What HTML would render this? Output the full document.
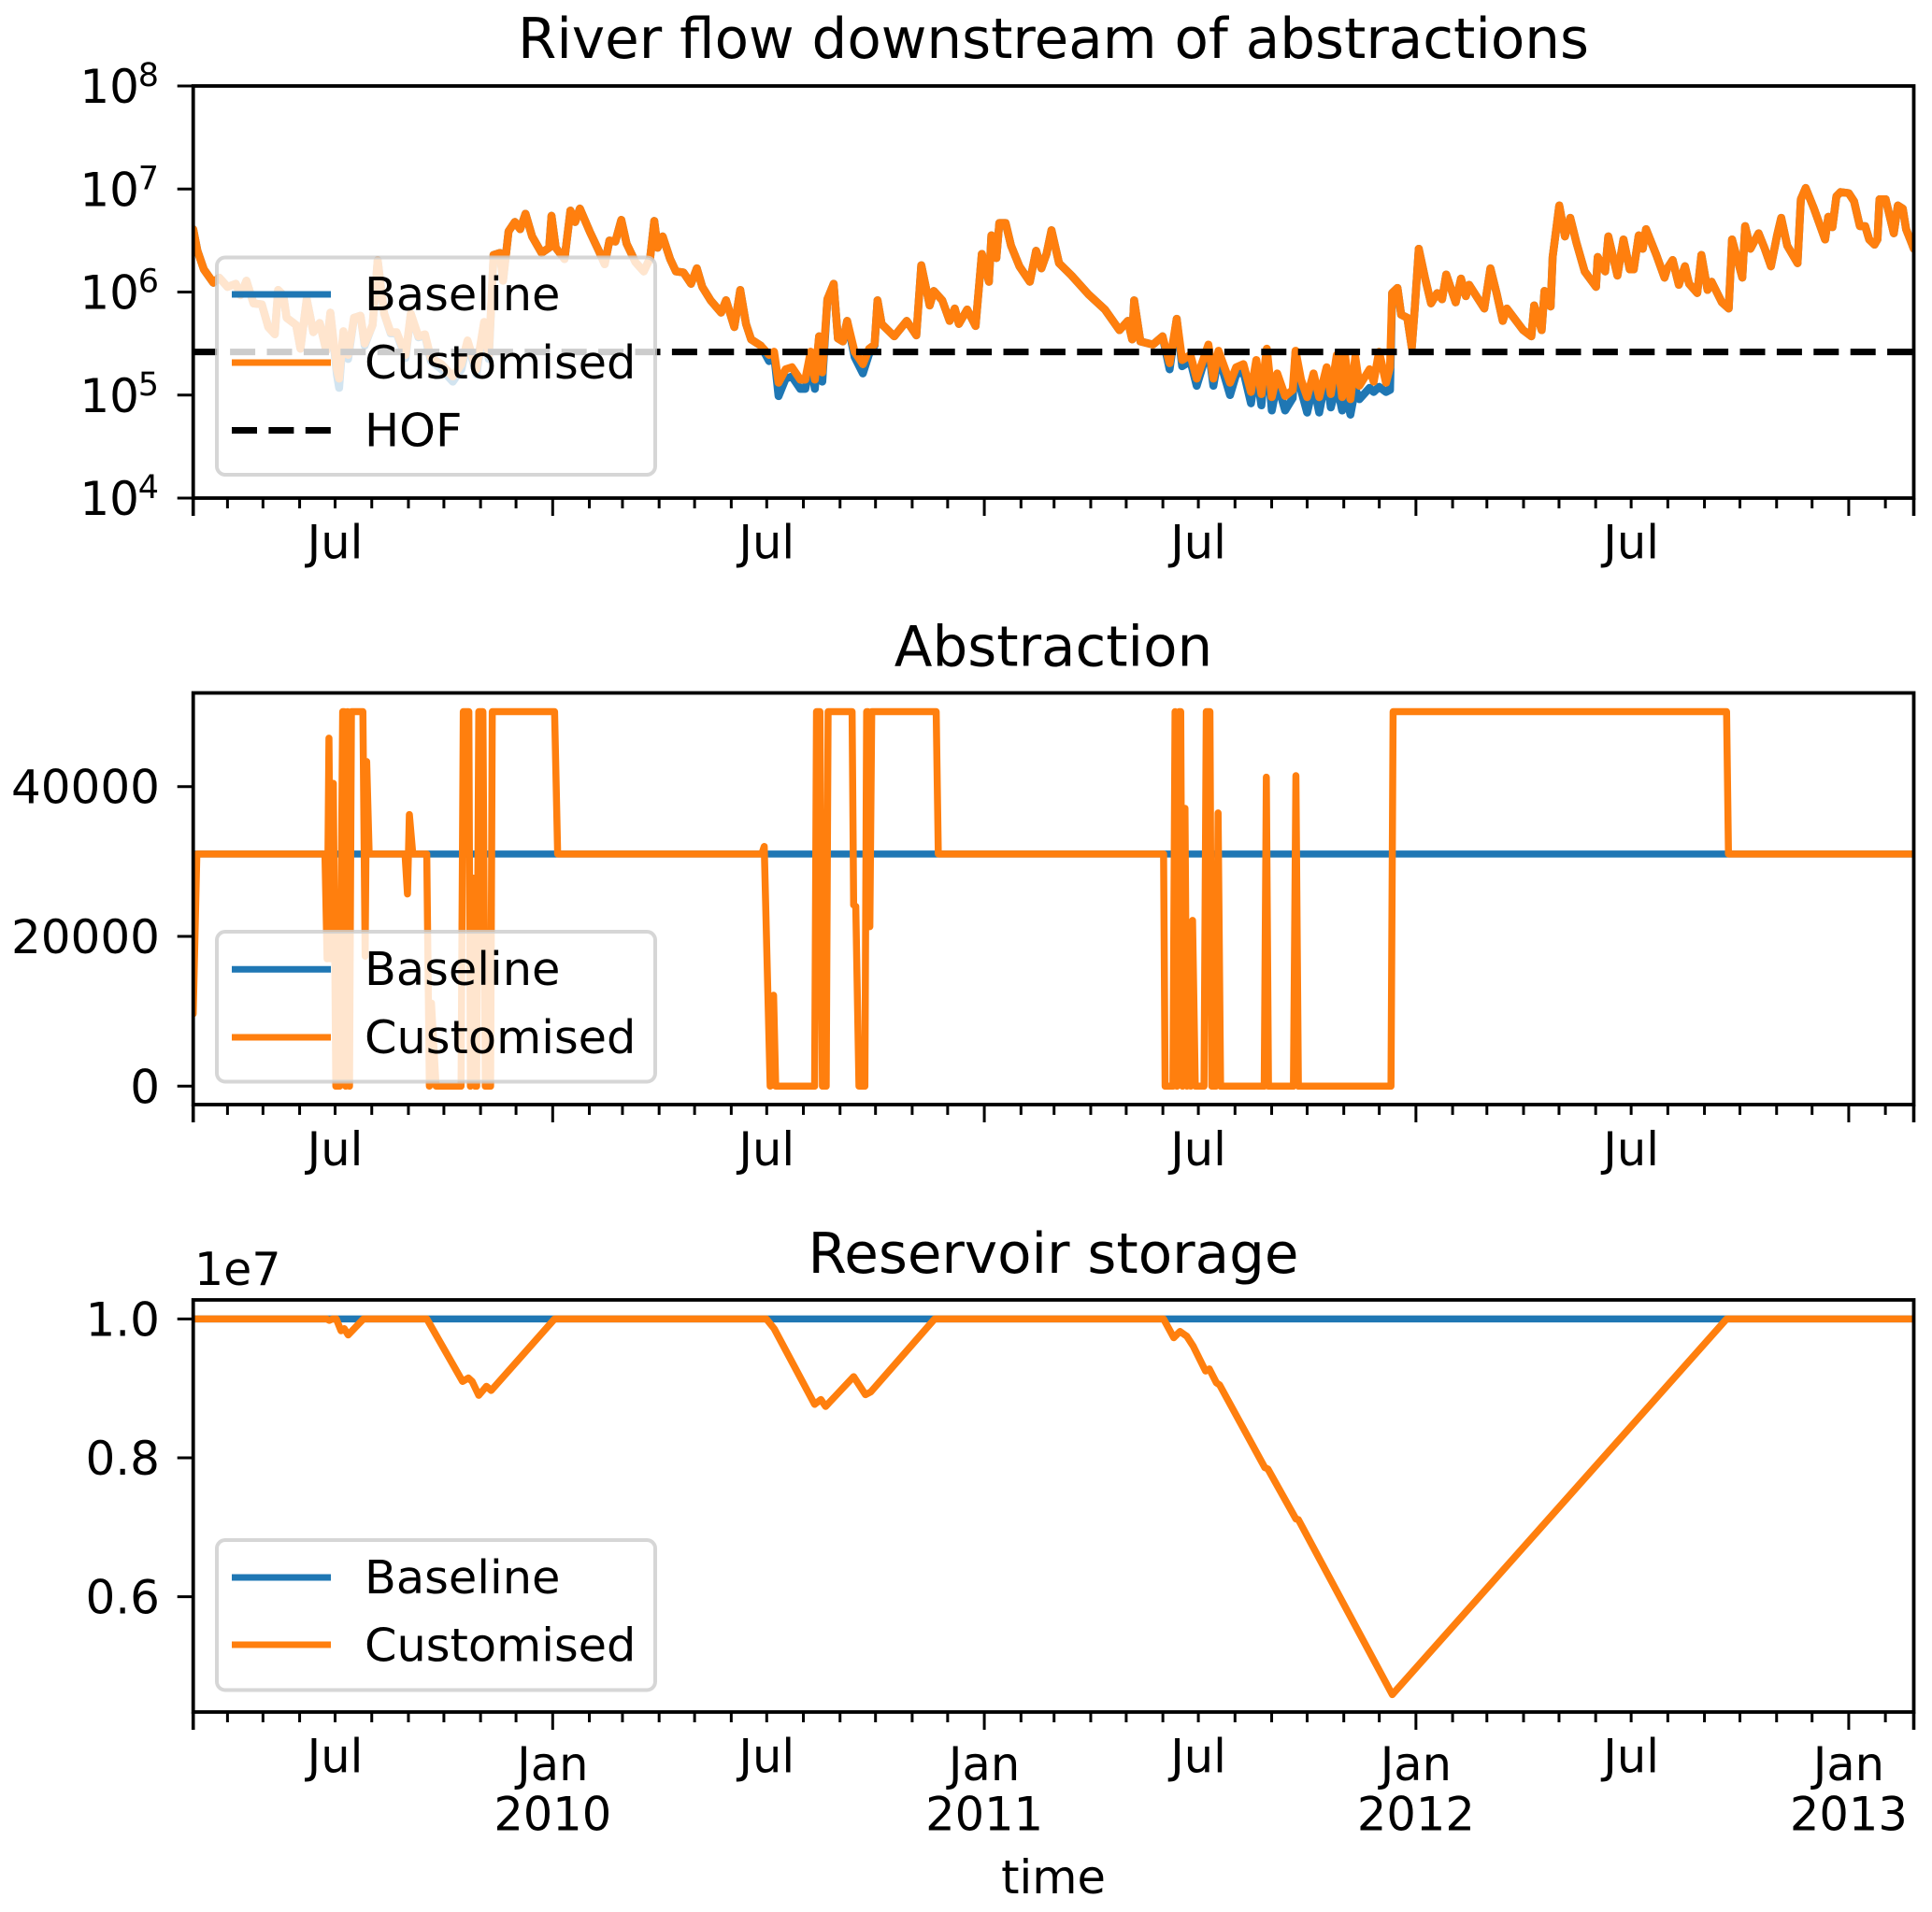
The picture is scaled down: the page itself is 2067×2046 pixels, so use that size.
<!DOCTYPE html>
<html lang="en">
<head>
<meta charset="utf-8">
<title>River flow, abstraction and reservoir storage</title>
<style>
html,body{margin:0;padding:0;background:#fff;}
svg{display:block;}
text{font-family:"DejaVu Sans","Liberation Sans",sans-serif;fill:#000;}
</style>
</head>
<body>
<svg id="figure" xmlns="http://www.w3.org/2000/svg" width="2067" height="2046" viewBox="0 0 2067 2046">
  <rect x="0" y="0" width="2067" height="2046" fill="#fff"/>
  <defs>
    <clipPath id="clip-flow"><rect x="206.7" y="92" width="1840.8" height="441"/></clipPath>
    <clipPath id="clip-abstraction"><rect x="206.7" y="741.5" width="1840.8" height="440.5"/></clipPath>
    <clipPath id="clip-storage"><rect x="206.7" y="1391" width="1840.8" height="441"/></clipPath>
  </defs>

  <text x="1127" y="62" font-size="59.5" text-anchor="middle">River flow downstream of abstractions</text>
  <text x="1127" y="712.5" font-size="59.5" text-anchor="middle">Abstraction</text>
  <text x="1127" y="1362" font-size="59.5" text-anchor="middle">Reservoir storage</text>
  <text x="208" y="1375" font-size="49">1e7</text>
  <text x="1127" y="2026" font-size="49.5" text-anchor="middle">time</text>

  <g id="flow-axes"></g>
  <g id="abstraction-axes"></g>
  <g id="storage-axes"></g>

  <g>
    <rect x="232" y="275.5" width="469" height="232.5" rx="9" fill="#fff" fill-opacity="0.8" stroke="#ccc" stroke-opacity="0.8" stroke-width="4"/>
    <line x1="248" x2="354" y1="315" y2="315" stroke="#1f77b4" stroke-width="7"/>
    <text x="390" y="332" font-size="49.4">Baseline</text>
    <line x1="248" x2="354" y1="388" y2="388" stroke="#ff7f0e" stroke-width="7"/>
    <text x="390" y="405" font-size="49.4">Customised</text>
    <line x1="248" x2="354" y1="460.5" y2="460.5" stroke="#000" stroke-width="7" stroke-dasharray="27 12.4"/>
    <text x="390" y="477.5" font-size="49.4">HOF</text>
  </g>
  <g>
    <rect x="232" y="997" width="469" height="160.5" rx="9" fill="#fff" fill-opacity="0.8" stroke="#ccc" stroke-opacity="0.8" stroke-width="4"/>
    <line x1="248" x2="354" y1="1037.3" y2="1037.3" stroke="#1f77b4" stroke-width="7"/>
    <text x="390" y="1054" font-size="49.4">Baseline</text>
    <line x1="248" x2="354" y1="1110" y2="1110" stroke="#ff7f0e" stroke-width="7"/>
    <text x="390" y="1127" font-size="49.4">Customised</text>
  </g>
  <g>
    <rect x="232" y="1648" width="469" height="160.5" rx="9" fill="#fff" fill-opacity="0.8" stroke="#ccc" stroke-opacity="0.8" stroke-width="4"/>
    <line x1="248" x2="354" y1="1688" y2="1688" stroke="#1f77b4" stroke-width="7"/>
    <text x="390" y="1705" font-size="49.4">Baseline</text>
    <line x1="248" x2="354" y1="1760" y2="1760" stroke="#ff7f0e" stroke-width="7"/>
    <text x="390" y="1777.5" font-size="49.4">Customised</text>
  </g>
</svg>

<script>
// Time axis: values are days since the first record (early March 2009).
const startDateUTC = Date.UTC(2009, 2, 3);
const endDay = 1455;
const tickYears = [2009, 2010, 2011, 2012, 2013];
const monthNames = ['Jan', 'Jul'];

// River flow, log10 of the flow value
const flowDays = [
0,3.6,9,17,22,29,36,40,45,51,
58,63.5,69,71.8,76.2,79,87,90.7,96,101.6,
107,112.5,116,121.5,123.4,127,131,136,141.5,145,
151.7,156,161.5,167,172,179.6,184,190.5,196,201,
210,219.5,226.8,232,239.5,246,250,254,259.4,262,
266.7,272,276.5,281,286.6,294.6,301,303,306.6,314,
319,323,327,335.6,343,348,352,357,362,366.5,
374,381,386.4,389.9,392.7,397,403.3,408.2,414.6,421,
425.9,430.5,437.5,446.4,450.6,457.6,462.6,467.5,471.8,479.9,
487,491.2,495,501,506.3,513.4,517.6,522.2,525.7,529.3,
532,536.3,541.6,545.2,549.4,553,559.3,566.3,571.6,576.2,
578.7,582.2,592.8,603.4,611.5,615.7,622.8,626.3,633.4,639.7,
644,647.5,654.5,661.6,666.9,672.9,675,679.2,681.7,687,
691.6,698.7,707.5,712.8,717.3,721.6,725.8,732.2,742.8,756.9,
771,783.3,790.4,794,795.7,801,811.6,819.7,825.7,831.7,
836.3,843.3,848.6,858.5,862.7,867,876.8,882,888.1,894.5,
899,903.3,907.9,912.1,916.7,923.4,929.8,932.2,936.8,942,
947.4,952.2,958.5,962,967.1,971.6,974,978.6,982.7,986.2,
994.8,998.3,1002.8,1008.7,1012.1,1013.9,1018.4,1021.5,1026.7,1030.5,
1033,1036.4,1041.6,1046.8,1052,1056.1,1059.6,1067.6,1072.1,1076.2,
1079,1091.8,1097,1102.2,1107.4,1110.9,1124.7,1131.6,1134,1140.3,
1142.7,1147.9,1149.6,1155.2,1160,1164.5,1169.7,1176.7,1186.3,1187.7,
1194,1196.7,1204.4,1209.5,1214.8,1218.2,1222.4,1225.8,1228.6,1237.3,
1244.2,1246.6,1251.1,1256.3,1261.5,1265,1271.9,1275.4,1280.6,1284,
1292.7,1298.5,1301.3,1310,1312.4,1316.9,1323.8,1329,1334.2,1339.4,
1342.9,1348,1356.7,1359.5,1363.6,1370.6,1380,1382.7,1386.2,1389.6,
1393.1,1400,1404.5,1409.4,1413.9,1417.3,1421.8,1424.3,1426,1431.2,
1438.1,1441.5,1445.7,1448.5,1453,1455
];
const flowCustomisedLog10 = [
6.61,6.40,6.22,6.09,6.14,6.05,6.08,5.97,6.11,5.89,
5.88,5.66,5.59,6.02,5.97,5.75,5.68,5.45,5.93,5.61,
5.70,5.43,5.80,5.25,5.16,5.62,5.39,5.75,5.77,5.50,
5.68,6.31,5.79,5.61,5.61,5.39,5.79,5.57,5.59,5.36,
5.30,5.18,5.30,5.53,5.25,5.71,5.39,6.36,6.38,6.11,
6.59,6.68,6.61,6.76,6.54,6.38,6.43,6.74,6.43,6.32,
6.79,6.68,6.81,6.58,6.40,6.27,6.50,6.49,6.70,6.47,
6.29,6.20,6.33,6.69,6.43,6.54,6.32,6.20,6.19,6.08,
6.23,6.05,5.92,5.80,5.92,5.66,6.02,5.69,5.54,5.48,
5.39,5.42,5.12,5.25,5.27,5.15,5.15,5.42,5.15,5.57,
5.22,5.93,6.08,5.55,5.52,5.72,5.42,5.30,5.45,5.49,
5.92,5.69,5.57,5.72,5.58,6.26,5.87,6.01,5.92,5.72,
5.84,5.69,5.83,5.67,6.37,6.10,6.55,6.33,6.67,6.67,
6.45,6.25,6.10,6.40,6.23,6.37,6.60,6.28,6.16,5.98,
5.83,5.63,5.72,5.54,5.92,5.52,5.49,5.57,5.31,5.74,
5.34,5.39,5.16,5.49,5.16,5.43,5.12,5.27,5.30,5.03,
5.34,5.01,5.45,4.98,5.21,4.99,5.05,5.43,5.15,4.98,
5.21,4.98,5.27,5.01,5.39,4.98,5.39,4.96,5.37,5.09,
5.25,5.13,5.42,5.12,5.27,5.99,6.04,5.78,5.75,5.46,
5.84,6.42,6.14,5.89,5.99,5.93,6.17,5.90,6.13,5.96,
6.07,5.84,6.23,5.99,5.72,5.84,5.63,5.57,5.87,5.63,
6.01,5.86,6.34,6.84,6.54,6.72,6.48,6.20,6.05,6.34,
6.20,6.54,6.16,6.51,6.22,6.22,6.55,6.42,6.61,6.36,
6.14,6.23,6.31,6.07,6.25,6.08,5.99,6.36,6.02,6.10,
5.90,5.84,6.51,6.14,6.64,6.42,6.57,6.42,6.25,6.55,
6.72,6.45,6.28,6.90,7.01,6.81,6.51,6.73,6.63,6.93,
6.97,6.96,6.88,6.64,6.64,6.51,6.46,6.51,6.90,6.90,
6.57,6.84,6.81,6.61,6.48,6.42
];
const flowBaselineLog10 = [
6.61,6.40,6.22,6.09,6.14,6.05,6.08,5.97,6.11,5.89,
5.88,5.66,5.59,6.02,5.97,5.75,5.68,5.45,5.93,5.61,
5.70,5.43,5.80,5.20,5.07,5.60,5.35,5.75,5.77,5.48,
5.68,6.31,5.79,5.60,5.60,5.36,5.79,5.56,5.58,5.33,
5.25,5.13,5.25,5.52,5.20,5.70,5.35,6.36,6.38,6.11,
6.59,6.68,6.61,6.76,6.54,6.38,6.43,6.74,6.43,6.32,
6.79,6.68,6.81,6.58,6.40,6.27,6.50,6.49,6.70,6.47,
6.29,6.20,6.33,6.69,6.43,6.54,6.32,6.20,6.19,6.08,
6.23,6.05,5.92,5.80,5.92,5.66,6.02,5.69,5.54,5.48,
5.33,5.40,4.99,5.16,5.18,5.06,5.06,5.33,5.06,5.57,
5.13,5.93,6.08,5.55,5.52,5.72,5.37,5.21,5.40,5.48,
5.92,5.69,5.57,5.72,5.58,6.26,5.87,6.01,5.92,5.72,
5.84,5.69,5.83,5.67,6.37,6.10,6.55,6.33,6.67,6.67,
6.45,6.25,6.10,6.40,6.23,6.37,6.60,6.28,6.16,5.98,
5.83,5.63,5.72,5.54,5.92,5.52,5.49,5.57,5.25,5.74,
5.28,5.33,5.09,5.46,5.09,5.38,5.00,5.20,5.23,4.92,
5.25,4.90,5.43,4.85,5.12,4.85,4.97,5.42,5.05,4.83,
5.10,4.83,5.20,4.88,5.10,4.85,5.05,4.81,5.06,4.96,
5.07,5.03,5.08,5.03,5.05,5.99,6.04,5.78,5.75,5.46,
5.84,6.42,6.14,5.89,5.99,5.93,6.17,5.90,6.13,5.96,
6.07,5.84,6.23,5.99,5.72,5.84,5.63,5.57,5.87,5.63,
6.01,5.86,6.34,6.84,6.54,6.72,6.48,6.20,6.05,6.34,
6.20,6.54,6.16,6.51,6.22,6.22,6.55,6.42,6.61,6.36,
6.14,6.23,6.31,6.07,6.25,6.08,5.99,6.36,6.02,6.10,
5.90,5.84,6.51,6.14,6.64,6.42,6.57,6.42,6.25,6.55,
6.72,6.45,6.28,6.90,7.01,6.81,6.51,6.73,6.63,6.93,
6.97,6.96,6.88,6.64,6.64,6.51,6.46,6.51,6.90,6.90,
6.57,6.84,6.81,6.61,6.48,6.42
];
const hofDays = [0, 1455];
const hofFlowLog10 = [5.418, 5.418];
const flowTickExponents = [4, 5, 6, 7, 8];

// Abstraction
const abstractionDays = [
0,3.1,111.4,113.2,114.8,116.4,118.5,120.6,123.8,126.4,
127.7,129,130.6,132.2,133.8,143.5,145.4,146.7,148.8,179.1,
181.2,182.8,185.7,197.5,199.7,201.5,205.4,226.5,228.4,233.1,
234.4,236.5,238.4,239.7,241.5,245,247,251.5,252.9,305.6,
308.2,480.8,482.9,487.9,490.8,492.6,525.5,527.1,530,532.1,
535.3,536.9,557.2,558.5,560.3,563,568,569.5,570.6,572.2,
573.8,628.3,630.1,820.6,821.9,828.5,830.3,831.9,833.7,835.1,
836.6,838.7,840.3,842.4,843.5,845.1,847.4,854.8,856.7,859.8,
861.4,864.8,866.7,868.8,905.7,907.5,909.3,930.4,932.5,934.6,
1012.9,1014.7,1296.7,1298.3,1455
];
const abstractionCustomised = [
9650,31000,31000,17000,46460,17000,40430,0,0,50000,
50000,0,50000,0,50000,50000,17350,43340,31000,31000,
25660,36270,31000,31000,0,11100,0,0,50000,50000,
0,27800,0,0,50000,50000,0,0,50000,50000,
31000,31000,32000,0,12140,0,0,50000,50000,0,
0,50000,50000,24200,24000,0,0,50000,50000,21300,
50000,50000,31000,31000,0,0,50000,0,50000,50000,
0,37100,0,20000,0,22130,0,0,50000,50000,
0,0,36480,0,0,41260,0,0,41460,0,
0,50000,50000,31000,31000
];
const abstractionBaselineDays = [0, 1455];
const abstractionBaseline = [31000, 31000];
const abstractionTicks = [0, 20000, 40000];

// Reservoir storage, in units of 1e7
const storageDays = [
0,112.9,115,117.7,121,125,127.8,131,144,197.6,
227.8,232.7,235.9,241.5,248,252,305.6,484.7,491.3,525.5,
530.8,534.8,558.5,568.5,573,627,820.6,829.2,834.5,840.3,
845.6,856.1,859.3,865.3,868,906.2,908.8,932.5,934.6,1014,
1296.7,1455
];
const storageCustomised = [
1,1,0.998,1,1,0.983,0.986,0.977,1,1,
0.91,0.915,0.91,0.89,0.903,0.897,1,1,0.986,0.877,
0.884,0.874,0.917,0.891,0.895,1,1,0.973,0.982,0.975,
0.961,0.925,0.928,0.908,0.905,0.786,0.784,0.712,0.711,0.459,
1,1
];
const storageBaselineDays = [0, 1455];
const storageBaseline = [1, 1];
const storageTicks = [0.6, 0.8, 1.0];
const storageTickLabels = ['0.6', '0.8', '1.0'];

// Axis functions
const SVG_NS = 'http://www.w3.org/2000/svg';
const axisLeft = 206.7;
const axisRight = 2047.5;
const tickFont = 49.5;
function xScale(day) { return axisLeft + day * (axisRight - axisLeft) / endDay; }
function yFlow(log10Value) { return 92 + (8 - log10Value) * 110.25; }
function yAbstraction(value) { return 1162.3 - value * 0.008015; }
function yStorage(value) { return 1411.4 + (1 - value) * 743; }
function dayOfDate(year, month) { return (Date.UTC(year, month, 1) - startDateUTC) / 86400000; }

function makeLine(parent, x1, y1, x2, y2, width) {
  const el = document.createElementNS(SVG_NS, 'line');
  el.setAttribute('x1', x1);
  el.setAttribute('y1', y1);
  el.setAttribute('x2', x2);
  el.setAttribute('y2', y2);
  el.setAttribute('stroke', '#000');
  el.setAttribute('stroke-width', width);
  parent.appendChild(el);
  return el;
}
function makeText(parent, x, y, size, anchor, content) {
  const el = document.createElementNS(SVG_NS, 'text');
  el.setAttribute('x', x);
  el.setAttribute('y', y);
  el.setAttribute('font-size', size);
  el.setAttribute('text-anchor', anchor);
  el.textContent = content;
  parent.appendChild(el);
  return el;
}
function makeSeries(parent, days, values, yFn, color, width, clipId) {
  const el = document.createElementNS(SVG_NS, 'polyline');
  el.setAttribute('points', days.map(function (d, i) { return xScale(d).toFixed(2) + ',' + yFn(values[i]).toFixed(2); }).join(' '));
  el.setAttribute('fill', 'none');
  el.setAttribute('stroke', color);
  el.setAttribute('stroke-width', width);
  el.setAttribute('stroke-linejoin', 'round');
  el.setAttribute('stroke-linecap', 'round');
  el.setAttribute('clip-path', 'url(#' + clipId + ')');
  parent.appendChild(el);
  return el;
}

function drawFrame(parent, top, bottom, showJan, julBaseline, prefix) {
  const tickGroup = document.createElementNS(SVG_NS, 'g');
  
  
  parent.appendChild(tickGroup);

  const edgeLeft = makeLine(tickGroup, xScale(0), bottom, xScale(0), bottom + 19, 3.6);
  
  
  const edgeRight = makeLine(tickGroup, xScale(endDay), bottom, xScale(endDay), bottom + 19, 3.6);
  
  

  tickYears.forEach(function (year) {
    for (let month = 0; month < 12; month++) {
      const day = dayOfDate(year, month);
      if (day <= 0 || day >= endDay) continue;
      const isJan = month === 0;
      const tick = makeLine(tickGroup, xScale(day), bottom, xScale(day), bottom + (isJan ? 19 : 11), 3);
      
      
      if (month === 6) {
        const jul = makeText(tickGroup, xScale(day), julBaseline, tickFont, 'middle', monthNames[1]);
        
        
      }
      if (isJan && showJan) {
        const jan = makeText(tickGroup, xScale(day), 1905, tickFont, 'middle', monthNames[0]);
        
        
        const yr = makeText(tickGroup, xScale(day), 1958.5, tickFont, 'middle', String(year));
        
        
      }
    }
  });

  const frame = document.createElementNS(SVG_NS, 'rect');
  frame.setAttribute('x', axisLeft);
  frame.setAttribute('y', top);
  frame.setAttribute('width', axisRight - axisLeft);
  frame.setAttribute('height', bottom - top);
  frame.setAttribute('fill', 'none');
  frame.setAttribute('stroke', '#000');
  frame.setAttribute('stroke-width', 3.8);
  
  
  parent.appendChild(frame);
}

// Panel 1: river flow
const flowAxes = document.getElementById('flow-axes');
const flowBaselineLine = makeSeries(flowAxes, flowDays, flowBaselineLog10, yFlow, '#1f77b4', 8.5, 'clip-flow');


const flowCustomisedLine = makeSeries(flowAxes, flowDays, flowCustomisedLog10, yFlow, '#ff7f0e', 8.5, 'clip-flow');


const hofLine = makeSeries(flowAxes, hofDays, hofFlowLog10, yFlow, '#000', 7, 'clip-flow');
hofLine.setAttribute('stroke-dasharray', '27 12.4');
hofLine.setAttribute('stroke-linecap', 'butt');


drawFrame(flowAxes, 92, 533, false, 597.5, 'flow');
flowTickExponents.forEach(function (exponent) {
  const y = yFlow(exponent);
  const tick = makeLine(flowAxes, axisLeft, y, axisLeft - 17, y, 3);
  
  
  const base = makeText(flowAxes, 149, y + 18, 50, 'end', '10');
  
  
  const sup = makeText(flowAxes, 170, y, 35, 'end', String(exponent));
  
  
});

// Panel 2: abstraction
const abstractionAxes = document.getElementById('abstraction-axes');
const abstractionBaselineLine = makeSeries(abstractionAxes, abstractionBaselineDays, abstractionBaseline, yAbstraction, '#1f77b4', 7.5, 'clip-abstraction');


const abstractionCustomisedLine = makeSeries(abstractionAxes, abstractionDays, abstractionCustomised, yAbstraction, '#ff7f0e', 7.5, 'clip-abstraction');


drawFrame(abstractionAxes, 741.5, 1182, false, 1247, 'abstraction');
abstractionTicks.forEach(function (value) {
  const y = yAbstraction(value);
  const tick = makeLine(abstractionAxes, axisLeft, y, axisLeft - 17, y, 3);
  
  
  const label = makeText(abstractionAxes, 171, y + 18, 50, 'end', String(value));
  
  
});

// Panel 3: reservoir storage
const storageAxes = document.getElementById('storage-axes');
const storageBaselineLine = makeSeries(storageAxes, storageBaselineDays, storageBaseline, yStorage, '#1f77b4', 7.5, 'clip-storage');


const storageCustomisedLine = makeSeries(storageAxes, storageDays, storageCustomised, yStorage, '#ff7f0e', 7.5, 'clip-storage');


drawFrame(storageAxes, 1391, 1832, true, 1896.5, 'storage');
storageTicks.forEach(function (value, i) {
  const y = yStorage(value);
  const tick = makeLine(storageAxes, axisLeft, y, axisLeft - 17, y, 3);
  
  
  const label = makeText(storageAxes, 171, y + 18, 50, 'end', storageTickLabels[i]);
  
  
});
</script>
</body>
</html>
